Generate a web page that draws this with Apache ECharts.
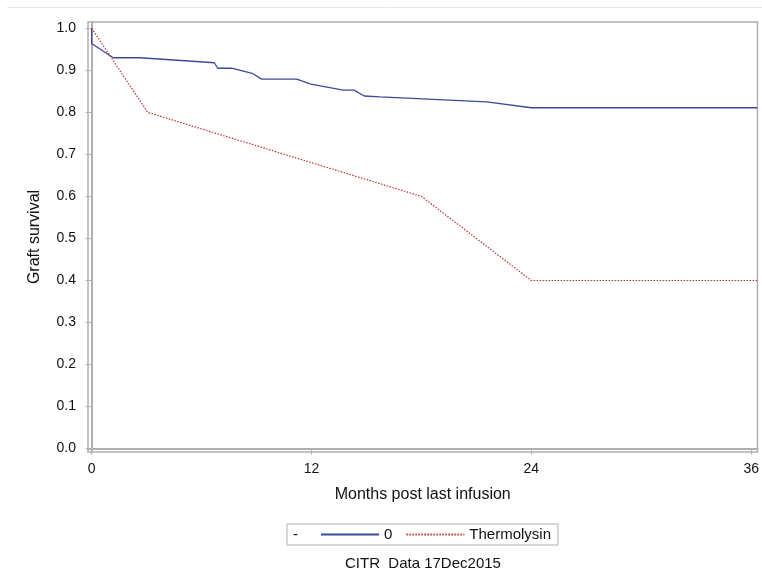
<!DOCTYPE html>
<html>
<head>
<meta charset="utf-8">
<script src="https://cdn.jsdelivr.net/npm/echarts@6/dist/echarts.min.js"></script>
<style>html,body{margin:0;padding:0;background:#fff}#c{width:762px;height:574px}</style>
</head>
<body>
<div id="c"></div>
<script>
// Data
const groupNames = ['0', 'Thermolysin'];
const blueMonths = [0, 0, 1.18, 2.64, 6.70, 6.88, 7.64, 8.76, 9.28, 11.19, 11.97, 13.73, 14.32, 14.88, 15.74, 21.56, 24.0, 36.34];
const blueSurv   = [1.0, 0.964, 0.930, 0.930, 0.918, 0.905, 0.905, 0.893, 0.879, 0.879, 0.867, 0.853, 0.853, 0.839, 0.837, 0.825, 0.811, 0.811];
const redMonths  = [0, 3.06, 18.0, 24.0, 36.34];
const redSurv    = [1.0, 0.80, 0.60, 0.40, 0.40];
const xTicks = [0, 12, 24, 36];
const yTicks = [0, 0.1, 0.2, 0.3, 0.4, 0.5, 0.6, 0.7, 0.8, 0.9, 1.0];

const zip = (a, b) => a.map((v, i) => [v, b[i]]);
const FONT = '"Liberation Sans", Arial, sans-serif';
const chart = echarts.init(document.getElementById('c'));
chart.setOption({
  animation: false,
  backgroundColor: '#fff',
  textStyle: { fontFamily: FONT },
  title: {
    text: 'CITR  Data 17Dec2015',
    left: 340, top: 551,
    textStyle: { fontSize: 15, fontWeight: 'normal', color: '#111', fontFamily: FONT }
  },
  grid: {
    left: 88, right: 4.5, top: 22, bottom: 122,
    show: true, borderColor: '#b0b0b0', borderWidth: 1.5, backgroundColor: '#fff'
  },
  legend: {
    data: groupNames,
    left: 287, top: 524,
    padding: [3, 7, 3, 33],
    borderColor: '#b0b0b0', borderWidth: 1,
    itemWidth: 58, itemHeight: 10, itemGap: 13,
    itemStyle: { opacity: 0, borderWidth: 0 },
    textStyle: { fontSize: 15, color: '#111', fontFamily: FONT }
  },
  graphic: [
    { type: 'line', shape: { x1: 7, y1: 7.5, x2: 762, y2: 7.5 }, style: { stroke: '#e6e6e6', lineWidth: 1 } },
    { type: 'text', left: 293, top: 527, style: { text: '-', fontSize: 15, fill: '#111', fontFamily: FONT } }
  ],
  xAxis: {
    type: 'value', min: -0.2, max: 36.34,
    name: 'Months post last infusion', nameLocation: 'middle', nameGap: 35,
    nameTextStyle: { fontSize: 16, color: '#111', fontFamily: FONT },
    axisLine: { show: true, lineStyle: { color: '#b0b0b0', width: 2 } },
    axisTick: { show: true, length: 6, customValues: xTicks, lineStyle: { color: '#b0b0b0' } },
    axisLabel: { customValues: xTicks, fontSize: 14, color: '#111', margin: 10, fontFamily: FONT },
    splitLine: { show: false }
  },
  yAxis: {
    type: 'value', min: -0.008, max: 1.015,
    name: 'Graft survival', nameLocation: 'middle', nameGap: 45,
    nameTextStyle: { fontSize: 16, color: '#111', fontFamily: FONT },
    axisLine: { show: true, lineStyle: { color: '#b0b0b0', width: 2 } },
    axisTick: { show: true, length: 6, customValues: yTicks, lineStyle: { color: '#b0b0b0' } },
    axisLabel: { customValues: yTicks, fontSize: 14, color: '#111', margin: 12, fontFamily: FONT,
      formatter: v => v.toFixed(1) },
    splitLine: { show: false }
  },
  series: [
    { name: groupNames[0], type: 'line', data: zip(blueMonths, blueSurv), symbol: 'none',
      itemStyle: { color: '#3a4b98' },
      lineStyle: { color: '#3a4b98', width: 1.3, type: 'solid' } },
    { name: groupNames[1], type: 'line', data: zip(redMonths, redSurv), symbol: 'none',
      itemStyle: { color: '#b8322a' },
      lineStyle: { color: '#b8322a', width: 1.2, type: [1.5, 1.5] } }
  ]
});
</script>
</body>
</html>
